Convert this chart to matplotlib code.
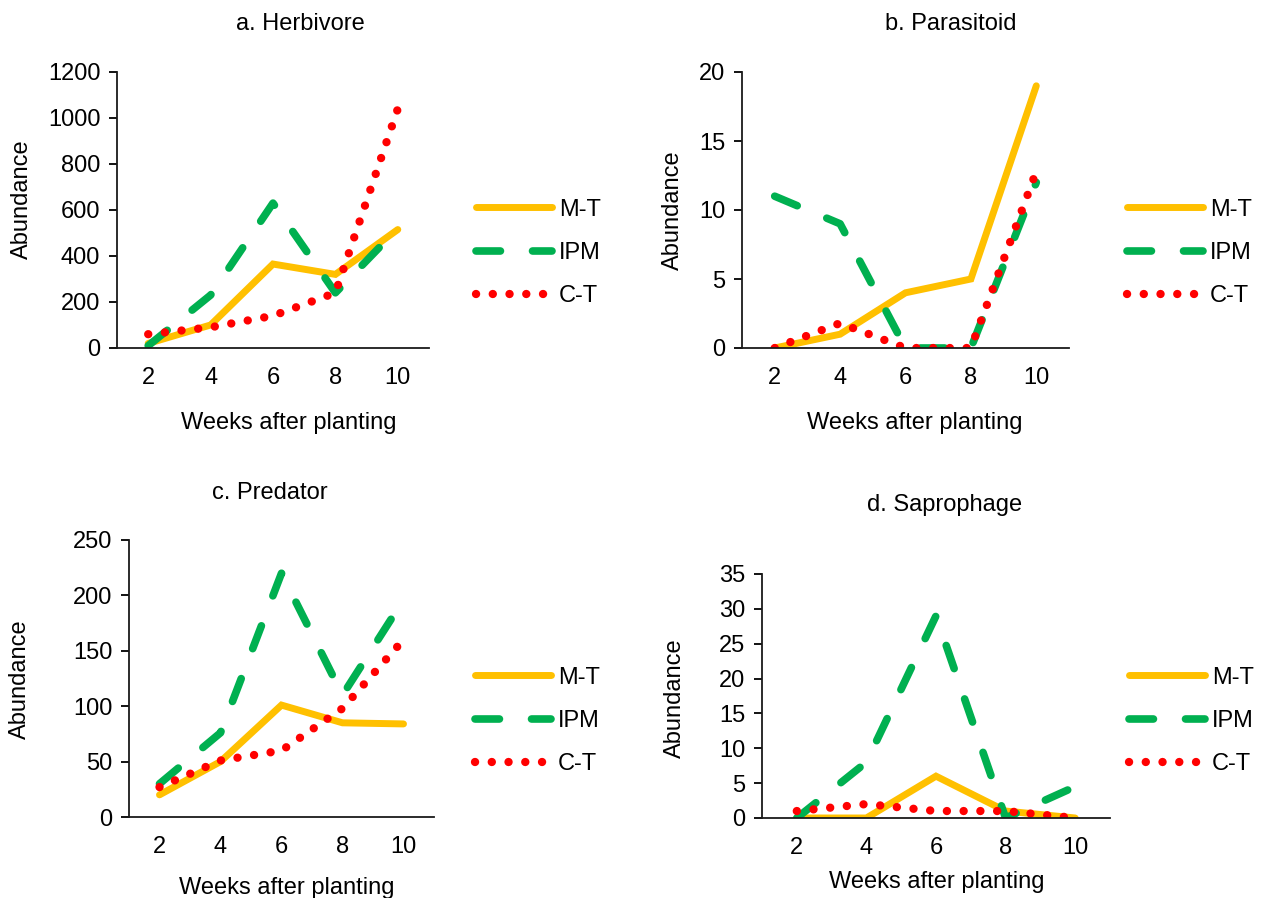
import matplotlib
matplotlib.use('Agg')
import matplotlib.pyplot as plt
import numpy as np

plt.rcParams['font.family'] = ['Liberation Sans', 'DejaVu Sans']

weeks = ['2', '4', '6', '8', '10']
series = ['M-T', 'IPM', 'C-T']

herbivore_mt = [20, 100, 365, 320, 515]
herbivore_ipm = [10, 230, 630, 240, 520]
herbivore_ct = [60, 90, 140, 240, 1040]

parasitoid_mt = [0, 1, 4, 5, 19]
parasitoid_ipm = [11, 9, 0, 0, 12]
parasitoid_ct = [0, 1.8, 0, 0, 12.8]

predator_mt = [20, 50, 101, 85, 84]
predator_ipm = [30, 76, 220, 110, 196]
predator_ct = [27, 51, 60, 98, 160]

saprophage_mt = [0, 0, 6, 1, 0]
saprophage_ipm = [0, 8, 29, 0, 4.5]
saprophage_ct = [1, 2, 1, 1, 0]

W, H = 1264, 898
fig = plt.figure(figsize=(W / 100, H / 100), dpi=100)

def fx(px):
    return px / W

def fy(py):
    return 1 - py / H

# panel boxes in pixels: left, right, top, bottom
panels = [
    dict(box=(117, 429, 72, 348), data=(herbivore_mt, herbivore_ipm, herbivore_ct),
         ymax=1200, step=200, title='a. Herbivore', tpos=(300, 24),
         xl=(289, 423), yl=(22, 199), leg=(476, 253)),
    dict(box=(742, 1069, 72, 348), data=(parasitoid_mt, parasitoid_ipm, parasitoid_ct),
         ymax=20, step=5, title='b. Parasitoid', tpos=(951, 24),
         xl=(915, 423), yl=(673, 210), leg=(1127, 253)),
    dict(box=(129, 434, 540, 817), data=(predator_mt, predator_ipm, predator_ct),
         ymax=250, step=50, title='c. Predator', tpos=(270, 493),
         xl=(287, 888), yl=(20, 679), leg=(475, 721)),
    dict(box=(762, 1110, 574, 818), data=(saprophage_mt, saprophage_ipm, saprophage_ct),
         ymax=35, step=5, title='d. Saprophage', tpos=(945, 505),
         xl=(937, 882), yl=(675, 698), leg=(1129, 721)),
]

styles = [
    dict(color='#FFC000', lw=5, linestyle='-', solid_capstyle='round', solid_joinstyle='miter'),
    dict(color='#00B050', lw=5.5, linestyle=(0, (3.2, 4.2)), dash_capstyle='round'),
    dict(color='#FF0000', lw=6, linestyle=(0, (0.01, 2.0)), dash_capstyle='round'),
]

x = np.arange(1, len(weeks) + 1)

for p in panels:
    l, r, t, b = p['box']
    ax = fig.add_axes([fx(l), fy(b), fx(r - l), (b - t) / H])
    for vals, name, st in zip(p['data'], series, styles):
        ax.plot(x, vals, label=name, **st)
    ax.set_xlim(0.5, len(weeks) + 0.5)
    ax.set_ylim(0, p['ymax'])
    ax.set_yticks(np.arange(0, p['ymax'] + 1, p['step']))
    ax.set_xticks(x)
    ax.set_xticklabels(weeks)
    for s in ['top', 'right']:
        ax.spines[s].set_visible(False)
    for s in ['left', 'bottom']:
        ax.spines[s].set_linewidth(1.3)
        ax.spines[s].set_color('#1a1a1a')
    ax.tick_params(axis='y', length=6, width=1.3, direction='out', labelsize=17, pad=6)
    ax.tick_params(axis='x', length=0, labelsize=17, pad=14)
    ax.patch.set_alpha(0)

    fig.text(fx(p['tpos'][0]), fy(p['tpos'][1]), p['title'], fontsize=17,
             ha='center', va='center')
    fig.text(fx(p['xl'][0]), fy(p['xl'][1]), 'Weeks after planting', fontsize=17,
             ha='center', va='center')
    fig.text(fx(p['yl'][0]), fy(p['yl'][1]), 'Abundance', fontsize=17,
             ha='center', va='center', rotation=90)

    ax.legend(loc='center left', bbox_to_anchor=(fx(p['leg'][0]), fy(p['leg'][1])),
              bbox_transform=fig.transFigure, frameon=False, fontsize=17,
              handlelength=3.2, handletextpad=0.3, labelspacing=0.9,
              borderpad=0, borderaxespad=0)

fig.savefig('out.png', dpi=100)
